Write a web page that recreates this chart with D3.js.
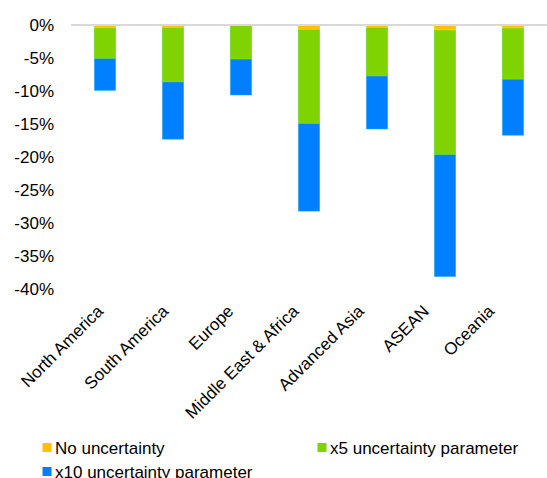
<!DOCTYPE html>
<html>
<head>
<meta charset="utf-8">
<script src="https://cdn.jsdelivr.net/npm/d3@7"></script>
<style>
  html, body { margin: 0; padding: 0; background: #fff; }
  svg { display: block; }
  text { font-family: "Liberation Sans", Arial, sans-serif; fill: #000; }
</style>
</head>
<body>
<svg id="chart" width="547" height="478"></svg>
<script>
// Regions on the x axis
const regions = ["North America", "South America", "Europe", "Middle East & Africa",
                 "Advanced Asia", "ASEAN", "Oceania"];

// Change in value (%) for each scenario, per region
const noUncertainty = [-0.4, -0.35, -0.05, -0.65, -0.35, -0.75, -0.45];
const x5Uncertainty = [-5.05, -8.6, -5.15, -14.9, -7.7, -19.6, -8.2];
const x10Uncertainty = [-9.9, -17.3, -10.6, -28.2, -15.75, -38.1, -16.7];

const seriesNames = ["No uncertainty", "x5 uncertainty parameter", "x10 uncertainty parameter"];
const seriesColors = ["#FFC000", "#7ED300", "#0080FF"];
const yTicks = [0, -5, -10, -15, -20, -25, -30, -35, -40];

const series = [
  { name: seriesNames[0], color: seriesColors[0], values: noUncertainty },
  { name: seriesNames[1], color: seriesColors[1], values: x5Uncertainty },
  { name: seriesNames[2], color: seriesColors[2], values: x10Uncertainty }
];

const FONT = "17px";
const svg = d3.select("#chart");

const x = d3.scaleBand()
  .domain(regions)
  .range([71, 547])
  .paddingInner(0.69)
  .paddingOuter(0.345);

// Category labels sit on a slightly tighter spacing than the bars
const xLabel = d3.scalePoint()
  .domain(regions)
  .range([100, 491]);

const y = d3.scaleLinear()
  .domain([-40, 0])
  .range([289, 25]);

// Y axis labels
const yAxis = svg.append("g")
  .attr("transform", "translate(54,0)")
  .call(d3.axisLeft(y).tickValues(yTicks).tickSize(0).tickPadding(0)
    .tickFormat(d => d + "%"));
yAxis.select(".domain").remove();
yAxis.selectAll("text").style("font-size", FONT).attr("fill", "#000");

// Bars overlap: widest scenario at the back, baseline scenario in front
const bars = svg.append("g");
[...series].reverse().forEach(s => {
  bars.selectAll(null)
    .data(regions.map((r, i) => ({ region: r, value: s.values[i] })))
    .join("rect")
    .attr("x", d => x(d.region))
    .attr("width", x.bandwidth())
    .attr("y", y(0))
    .attr("height", d => y(d.value) - y(0))
    .attr("fill", s.color)
    .attr("stroke", d3.color(s.color).brighter(0.6))
    .attr("stroke-opacity", 0.5)
    .attr("stroke-width", 1);
});

// Horizontal axis line at 0%
svg.append("line")
  .attr("x1", 71).attr("x2", 547)
  .attr("y1", y(0)).attr("y2", y(0))
  .attr("stroke", "#d9d9d9")
  .attr("stroke-width", 2);

// Rotated category labels
svg.append("g")
  .selectAll("text")
  .data(regions)
  .join("text")
  .attr("transform", d => `translate(${xLabel(d)},308) rotate(-45)`)
  .attr("text-anchor", "end")
  .attr("dy", "0.35em")
  .style("font-size", FONT)
  .text(d => d);

// Legend
const legendPos = [[42.5, 443], [317.5, 443], [42.5, 467]];
const legend = svg.append("g")
  .selectAll("g")
  .data(series)
  .join("g")
  .attr("transform", (d, i) => `translate(${legendPos[i][0]},${legendPos[i][1]})`);
legend.append("rect")
  .attr("width", 9).attr("height", 9)
  .attr("fill", d => d.color);
legend.append("text")
  .attr("x", 12.5).attr("y", 10.5)
  .style("font-size", FONT)
  .text(d => d.name);
</script>
</body>
</html>
